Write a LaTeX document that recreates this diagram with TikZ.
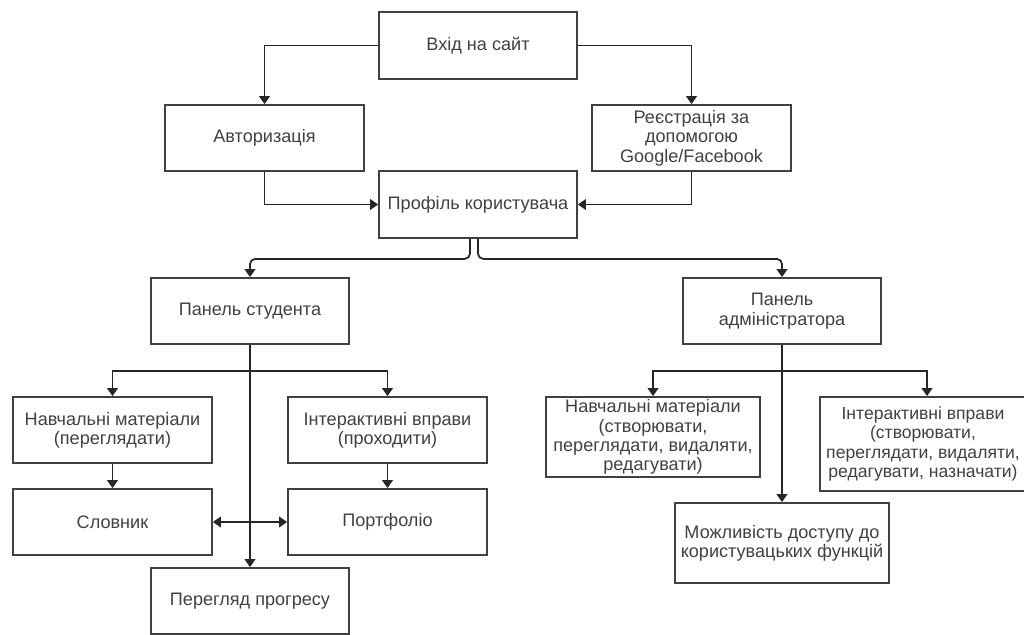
\documentclass[tikz,border=0pt]{standalone}
\usepackage{fontspec}
\setmainfont{Liberation Sans}
\usepackage{tikz}
\usetikzlibrary{arrows,arrows.meta,positioning}

\begin{document}
\begin{tikzpicture}[x=0.02cm, y=-0.02cm, >={Triangle[width=6pt,length=4.5pt]},
    block/.style={draw=black!75, line width=1pt, text=black!75, align=center,
      inner sep=1pt, font=\fontsize{10.3}{11}\selectfont},
    boxsize/.style 2 args={minimum width=#1*0.02cm, minimum height=#2*0.02cm},
    link/.style={->, draw=black!85, line width=1pt}]
    \useasboundingbox (0,0) rectangle (1024,635);
    \node[block, boxsize={198}{67}] (vhid) at (478,45.5) {Вхід на сайт};
    \node[block, boxsize={199}{66}] (auth) at (264.5,138) {Авторизація};
    \node[block, boxsize={199}{66}] (reg) at (691.5,138) {Реєстрація за\\допомогою\\Google/Facebook};
    \node[block, boxsize={198}{67}] (prof) at (478,204.5) {Профіль користувача};
    \node[block, boxsize={198}{66}] (stud) at (250,311) {Панель студента};
    \node[block, boxsize={198}{66}] (adm) at (782,311) {Панель\\адміністратора};
    \node[block, boxsize={199}{66}] (smat) at (112.5,430) {Навчальні матеріали\\(переглядати)};
    \node[block, boxsize={199}{66}] (sint) at (387.5,430) {Інтерактивні вправи\\(проходити)};
    \node[block, boxsize={199}{66}] (dict) at (112.5,522) {Словник};
    \node[block, boxsize={199}{66}] (port) at (387.5,522) {Портфоліо};
    \node[block, boxsize={198}{66}] (prog) at (250,601) {Перегляд прогресу};
    \node[block, boxsize={214}{80}] (amat) at (653,437) {Навчальні матеріали\\(створювати,\\переглядати, видаляти,\\редагувати)};
    \node[block, boxsize={206}{94}, font=\fontsize{10}{11}\selectfont] (aint) at (923,444) {Інтерактивні вправи\\(створювати,\\переглядати, видаляти,\\редагувати, назначати)};
    \node[block, boxsize={214}{80}] (acc) at (782,543) {Можливість доступу до\\користувацьких функцій};
    \draw[link] (vhid.west) -| (auth.north);
    \draw[link] (vhid.east) -| (reg.north);
    \draw[link] (auth.south) |- (prof.west);
    \draw[link] (reg.south) |- (prof.east);
    \draw[link, rounded corners=3pt] ([xshift=-0.16cm]prof.south) -- ++(0,20) -| (stud.north);
    \draw[link, rounded corners=3pt] (prof.south) -- ++(0,20) -| (adm.north);
    \draw[link] (stud.south) -- (prog.north);
    \draw[link] (stud.south) -- ++(0,26) -| (smat.north);
    \draw[link] (stud.south) -- ++(0,26) -| (sint.north);
    \draw[link] (smat) -- (dict);
    \draw[link] (sint) -- (port);
    \draw[link, <->] (dict) -- (port);
    \draw[link] (adm.south) -- (acc.north);
    \draw[link] (adm.south) -- ++(0,26) -| (amat.north);
    \draw[link] (adm.south) -- ++(0,26) -| ([xshift=0.08cm]aint.north);
\end{tikzpicture}
\end{document}
